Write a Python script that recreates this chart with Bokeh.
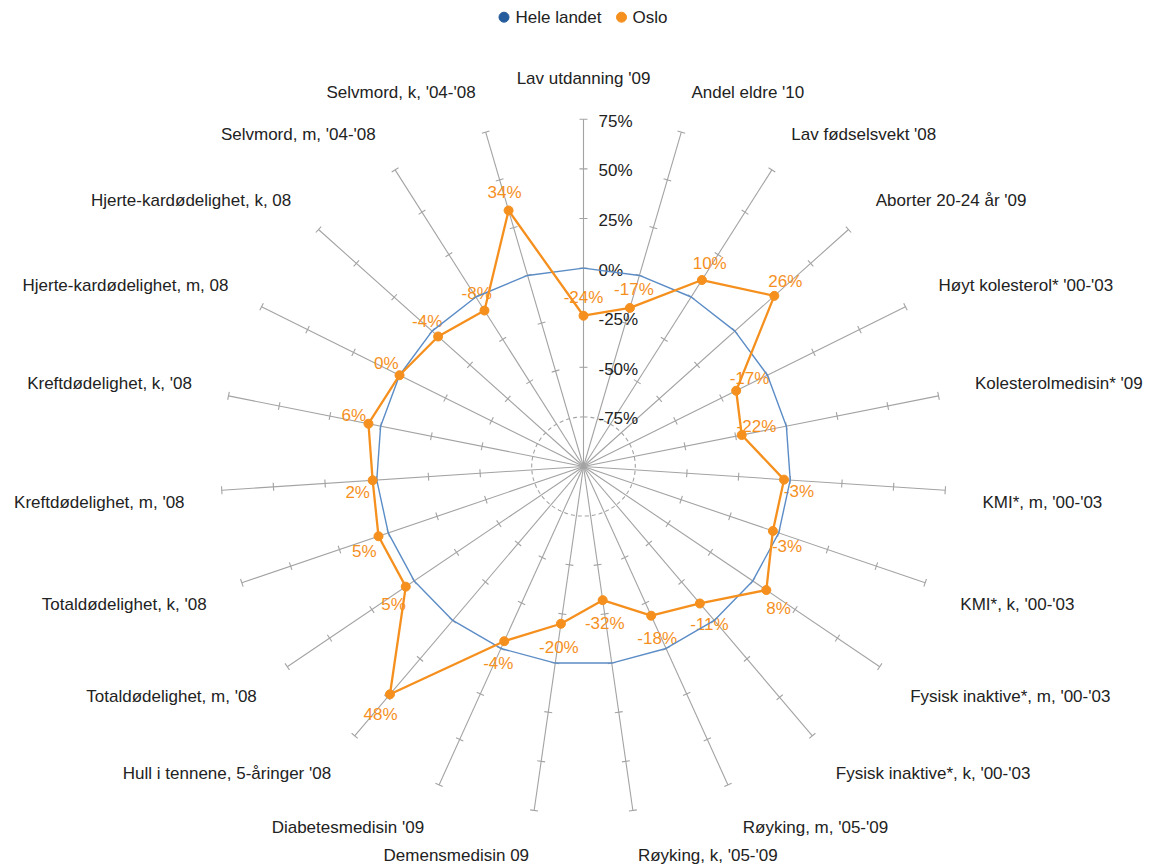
import math
from bokeh.plotting import figure
from bokeh.models import Range1d
from bokeh.core.properties import value
from bokeh.embed import file_html
from bokeh.resources import INLINE

# ---------------- data ----------------
categories = [
    "Lav utdanning '09", "Andel eldre '10", "Lav fødselsvekt '08", "Aborter 20-24 år '09",
    "Høyt kolesterol* '00-'03", "Kolesterolmedisin* '09", "KMI*, m, '00-'03", "KMI*, k, '00-'03",
    "Fysisk inaktive*, m, '00-'03", "Fysisk inaktive*, k, '00-'03", "Røyking, m, '05-'09",
    "Røyking, k, '05-'09", "Demensmedisin 09", "Diabetesmedisin '09",
    "Hull i tennene, 5-åringer '08", "Totaldødelighet, m, '08", "Totaldødelighet, k, '08",
    "Kreftdødelighet, m, '08", "Kreftdødelighet, k, '08", "Hjerte-kardødelighet, m, 08",
    "Hjerte-kardødelighet, k, 08", "Selvmord, m, '04-'08", "Selvmord, k, '04-'08",
]
hele_landet = [0, 0, 0, 0, 0, 0, 0, 0, 0, 0, 0, 0, 0, 0, 0, 0, 0, 0, 0, 0, 0, 0, 0]
oslo = [-24, -17, 10, 26, -17, -22, -3, -3, 8, -11, -18, -32, -20, -4, 48, 5, 5, 2, 6, 0, -4, -8, 34]
y_ticks = [-75, -50, -25, 0, 25, 50, 75]
y_min, y_max = -100, 75
series_names = ["Hele landet", "Oslo"]

# ---------------- layout / style ----------------
W, H = 1159, 865
CX, CY = 583.0, 466.0          # pixel position of the pole inside the canvas
SX, SY = 2.072, 1.984          # pixels per unit horizontally / vertically
FONT = "Liberation Sans"
FS = "17px"
BLUE_LINE = "#5b8cc6"
BLUE_DOT = "#245c9c"
ORANGE = "#f5901e"
GRAY = "#a3a3a3"
TXT = "#222222"

N = len(categories)


def theta(i):
    return 2 * math.pi * i / N


def polar(v, i):
    r = v - y_min
    return r * math.sin(theta(i)), r * math.cos(theta(i))


def px2x(px):
    return (px - CX) / SX


def py2y(py):
    return (CY - py) / SY


p = figure(width=W, height=H, title=None,
           x_range=Range1d(-CX / SX, (W - CX) / SX),
           y_range=Range1d(-(H - CY) / SY, CY / SY),
           x_axis_type=None, y_axis_type=None,
           output_backend="svg", toolbar_location=None, min_border=0)
p.outline_line_color = None
p.grid.visible = False
p.background_fill_color = "white"
p.border_fill_color = "white"

# spokes
ends = [polar(y_max, i) for i in range(N)]
p.segment(x0=[0] * N, y0=[0] * N, x1=[e[0] for e in ends], y1=[e[1] for e in ends],
          line_color=GRAY, line_width=1.1)

# tick marks on each spoke
tx0, ty0, tx1, ty1 = [], [], [], []
for i in range(N):
    th = theta(i)
    ux, uy = math.sin(th) * SX, -math.cos(th) * SY
    n = math.hypot(ux, uy)
    qx, qy = -uy / n, ux / n          # screen perpendicular
    for t in y_ticks[1:]:
        x, y = polar(t, i)
        dxd, dyd = 4 * qx / SX, -4 * qy / SY
        tx0.append(x - dxd); ty0.append(y - dyd)
        tx1.append(x + dxd); ty1.append(y + dyd)
p.segment(x0=tx0, y0=ty0, x1=tx1, y1=ty1, line_color=GRAY, line_width=1.1)

# dashed inner circle at the lowest tick
rc = y_ticks[0] - y_min
ang = [2 * math.pi * k / 180 for k in range(181)]
p.line([rc * math.sin(a) for a in ang], [rc * math.cos(a) for a in ang],
       line_color=GRAY, line_width=1.1, line_dash="4 3")

# radial tick labels on the top spoke
p.text(x=[15 / SX] * len(y_ticks), y=[t - y_min - 2 / SY for t in y_ticks],
       text=[f"{t}%" for t in y_ticks], text_font=value(FONT), text_font_size=FS,
       text_color=TXT, text_align="left", text_baseline="middle")

# category labels
RL = 193
groups = {"center": ([], [], []), "left": ([], [], []), "right": ([], [], [])}
for i, c in enumerate(categories):
    th = theta(i)
    x, y = RL * math.sin(th), RL * math.cos(th)
    y -= (-5 if math.cos(th) > 0 else 9.5) / SY
    s = math.sin(th)
    key = "center" if abs(s) < 1e-6 else ("left" if s > 0 else "right")
    groups[key][0].append(x); groups[key][1].append(y); groups[key][2].append(c)
for key, (xs, ys, ts) in groups.items():
    if xs:
        p.text(x=xs, y=ys, text=ts, text_font=value(FONT), text_font_size=FS,
               text_color=TXT, text_align=key, text_baseline="middle")

# Oslo value labels
lx, ly, lt = [], [], []
for i, v in enumerate(oslo):
    th = theta(i)
    x, y = polar(v, i)
    dxp = 15 * math.sin(th)
    dyp = -12.5 * math.cos(th) + (-6 if math.cos(th) > 0 else 11)
    lx.append(x + dxp / SX); ly.append(y - dyp / SY); lt.append(f"{v}%")
p.text(x=lx, y=ly, text=lt, text_font=value(FONT), text_font_size=FS,
       text_color=ORANGE, text_align="center", text_baseline="middle")

# series
hx = [polar(v, i)[0] for i, v in enumerate(hele_landet)]
hy = [polar(v, i)[1] for i, v in enumerate(hele_landet)]
p.line(hx + hx[:1], hy + hy[:1], line_color=BLUE_LINE, line_width=1.4)

ox = [polar(v, i)[0] for i, v in enumerate(oslo)]
oy = [polar(v, i)[1] for i, v in enumerate(oslo)]
p.line(ox + ox[:1], oy + oy[:1], line_color=ORANGE, line_width=2.3)
p.scatter(ox, oy, size=9, fill_color=ORANGE, line_color=ORANGE)

# legend (top centre): markers + labels
leg_dot_px = [503.5, 621.0]
leg_txt_px = [515.0, 632.0]
leg_y_px = 16.7
p.scatter([px2x(v) for v in leg_dot_px], [py2y(leg_y_px)] * 2, size=10,
          fill_color=[BLUE_DOT, ORANGE], line_color=[BLUE_DOT, ORANGE])
p.text(x=[px2x(v) for v in leg_txt_px], y=[py2y(leg_y_px)] * 2, text=series_names,
       text_font=value(FONT), text_font_size=FS, text_color=TXT,
       text_align="left", text_baseline="middle")

open("out.html", "w").write(file_html(p, INLINE))
